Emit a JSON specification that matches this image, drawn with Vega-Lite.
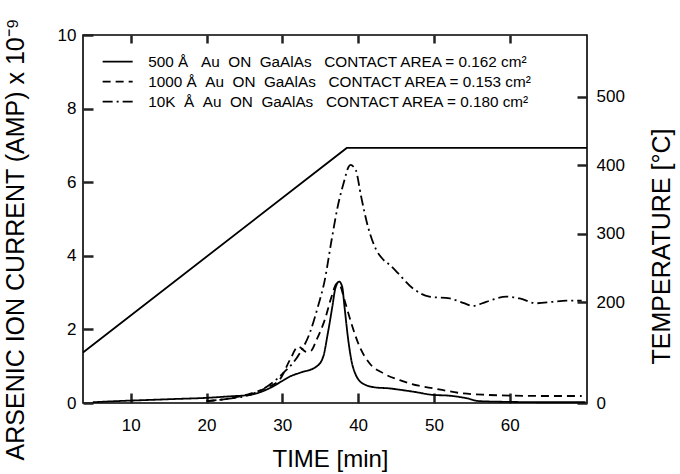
{
  "$schema": "https://vega.github.io/schema/vega-lite/v6.json",
  "width": 504,
  "height": 368,
  "autosize": {"type": "none"},
  "padding": {"left": 83, "top": 35, "right": 93, "bottom": 71},
  "background": "white",
  "config": {
    "view": {"stroke": "black", "strokeWidth": 1.6},
    "font": "Liberation Sans",
    "axis": {
      "labelFont": "Liberation Sans", "titleFont": "Liberation Sans",
      "labelColor": "black", "titleColor": "black", "titleFontWeight": "normal",
      "grid": false, "domain": false, "labelFontSize": 17, "titleFontSize": 25
    }
  },
  "datasets": {
    "current": [
      {"series": "500 Å\u00a0\u00a0\u00a0Au\u00a0\u00a0ON\u00a0\u00a0GaAlAs\u00a0\u00a0\u00a0CONTACT AREA = 0.162 cm²", "t": 5, "v": 0.02},
      {"series": "500 Å\u00a0\u00a0\u00a0Au\u00a0\u00a0ON\u00a0\u00a0GaAlAs\u00a0\u00a0\u00a0CONTACT AREA = 0.162 cm²", "t": 8, "v": 0.05},
      {"series": "500 Å\u00a0\u00a0\u00a0Au\u00a0\u00a0ON\u00a0\u00a0GaAlAs\u00a0\u00a0\u00a0CONTACT AREA = 0.162 cm²", "t": 12, "v": 0.08},
      {"series": "500 Å\u00a0\u00a0\u00a0Au\u00a0\u00a0ON\u00a0\u00a0GaAlAs\u00a0\u00a0\u00a0CONTACT AREA = 0.162 cm²", "t": 16, "v": 0.11},
      {"series": "500 Å\u00a0\u00a0\u00a0Au\u00a0\u00a0ON\u00a0\u00a0GaAlAs\u00a0\u00a0\u00a0CONTACT AREA = 0.162 cm²", "t": 20, "v": 0.14},
      {"series": "500 Å\u00a0\u00a0\u00a0Au\u00a0\u00a0ON\u00a0\u00a0GaAlAs\u00a0\u00a0\u00a0CONTACT AREA = 0.162 cm²", "t": 23, "v": 0.18},
      {"series": "500 Å\u00a0\u00a0\u00a0Au\u00a0\u00a0ON\u00a0\u00a0GaAlAs\u00a0\u00a0\u00a0CONTACT AREA = 0.162 cm²", "t": 25.7, "v": 0.22},
      {"series": "500 Å\u00a0\u00a0\u00a0Au\u00a0\u00a0ON\u00a0\u00a0GaAlAs\u00a0\u00a0\u00a0CONTACT AREA = 0.162 cm²", "t": 28.3, "v": 0.4},
      {"series": "500 Å\u00a0\u00a0\u00a0Au\u00a0\u00a0ON\u00a0\u00a0GaAlAs\u00a0\u00a0\u00a0CONTACT AREA = 0.162 cm²", "t": 30, "v": 0.6},
      {"series": "500 Å\u00a0\u00a0\u00a0Au\u00a0\u00a0ON\u00a0\u00a0GaAlAs\u00a0\u00a0\u00a0CONTACT AREA = 0.162 cm²", "t": 31, "v": 0.72},
      {"series": "500 Å\u00a0\u00a0\u00a0Au\u00a0\u00a0ON\u00a0\u00a0GaAlAs\u00a0\u00a0\u00a0CONTACT AREA = 0.162 cm²", "t": 32.3, "v": 0.82},
      {"series": "500 Å\u00a0\u00a0\u00a0Au\u00a0\u00a0ON\u00a0\u00a0GaAlAs\u00a0\u00a0\u00a0CONTACT AREA = 0.162 cm²", "t": 34.5, "v": 0.99},
      {"series": "500 Å\u00a0\u00a0\u00a0Au\u00a0\u00a0ON\u00a0\u00a0GaAlAs\u00a0\u00a0\u00a0CONTACT AREA = 0.162 cm²", "t": 35.4, "v": 1.26},
      {"series": "500 Å\u00a0\u00a0\u00a0Au\u00a0\u00a0ON\u00a0\u00a0GaAlAs\u00a0\u00a0\u00a0CONTACT AREA = 0.162 cm²", "t": 36.0, "v": 1.89},
      {"series": "500 Å\u00a0\u00a0\u00a0Au\u00a0\u00a0ON\u00a0\u00a0GaAlAs\u00a0\u00a0\u00a0CONTACT AREA = 0.162 cm²", "t": 36.6, "v": 2.62},
      {"series": "500 Å\u00a0\u00a0\u00a0Au\u00a0\u00a0ON\u00a0\u00a0GaAlAs\u00a0\u00a0\u00a0CONTACT AREA = 0.162 cm²", "t": 37.0, "v": 3.12},
      {"series": "500 Å\u00a0\u00a0\u00a0Au\u00a0\u00a0ON\u00a0\u00a0GaAlAs\u00a0\u00a0\u00a0CONTACT AREA = 0.162 cm²", "t": 37.5, "v": 3.3},
      {"series": "500 Å\u00a0\u00a0\u00a0Au\u00a0\u00a0ON\u00a0\u00a0GaAlAs\u00a0\u00a0\u00a0CONTACT AREA = 0.162 cm²", "t": 37.9, "v": 3.16},
      {"series": "500 Å\u00a0\u00a0\u00a0Au\u00a0\u00a0ON\u00a0\u00a0GaAlAs\u00a0\u00a0\u00a0CONTACT AREA = 0.162 cm²", "t": 38.2, "v": 2.62},
      {"series": "500 Å\u00a0\u00a0\u00a0Au\u00a0\u00a0ON\u00a0\u00a0GaAlAs\u00a0\u00a0\u00a0CONTACT AREA = 0.162 cm²", "t": 38.7, "v": 1.71},
      {"series": "500 Å\u00a0\u00a0\u00a0Au\u00a0\u00a0ON\u00a0\u00a0GaAlAs\u00a0\u00a0\u00a0CONTACT AREA = 0.162 cm²", "t": 39.3, "v": 0.99},
      {"series": "500 Å\u00a0\u00a0\u00a0Au\u00a0\u00a0ON\u00a0\u00a0GaAlAs\u00a0\u00a0\u00a0CONTACT AREA = 0.162 cm²", "t": 40.6, "v": 0.53},
      {"series": "500 Å\u00a0\u00a0\u00a0Au\u00a0\u00a0ON\u00a0\u00a0GaAlAs\u00a0\u00a0\u00a0CONTACT AREA = 0.162 cm²", "t": 42.4, "v": 0.42},
      {"series": "500 Å\u00a0\u00a0\u00a0Au\u00a0\u00a0ON\u00a0\u00a0GaAlAs\u00a0\u00a0\u00a0CONTACT AREA = 0.162 cm²", "t": 44, "v": 0.4},
      {"series": "500 Å\u00a0\u00a0\u00a0Au\u00a0\u00a0ON\u00a0\u00a0GaAlAs\u00a0\u00a0\u00a0CONTACT AREA = 0.162 cm²", "t": 45.5, "v": 0.36},
      {"series": "500 Å\u00a0\u00a0\u00a0Au\u00a0\u00a0ON\u00a0\u00a0GaAlAs\u00a0\u00a0\u00a0CONTACT AREA = 0.162 cm²", "t": 47.2, "v": 0.31},
      {"series": "500 Å\u00a0\u00a0\u00a0Au\u00a0\u00a0ON\u00a0\u00a0GaAlAs\u00a0\u00a0\u00a0CONTACT AREA = 0.162 cm²", "t": 49.9, "v": 0.22},
      {"series": "500 Å\u00a0\u00a0\u00a0Au\u00a0\u00a0ON\u00a0\u00a0GaAlAs\u00a0\u00a0\u00a0CONTACT AREA = 0.162 cm²", "t": 52, "v": 0.2},
      {"series": "500 Å\u00a0\u00a0\u00a0Au\u00a0\u00a0ON\u00a0\u00a0GaAlAs\u00a0\u00a0\u00a0CONTACT AREA = 0.162 cm²", "t": 54.3, "v": 0.13},
      {"series": "500 Å\u00a0\u00a0\u00a0Au\u00a0\u00a0ON\u00a0\u00a0GaAlAs\u00a0\u00a0\u00a0CONTACT AREA = 0.162 cm²", "t": 56, "v": 0.05},
      {"series": "500 Å\u00a0\u00a0\u00a0Au\u00a0\u00a0ON\u00a0\u00a0GaAlAs\u00a0\u00a0\u00a0CONTACT AREA = 0.162 cm²", "t": 60, "v": 0.03},
      {"series": "500 Å\u00a0\u00a0\u00a0Au\u00a0\u00a0ON\u00a0\u00a0GaAlAs\u00a0\u00a0\u00a0CONTACT AREA = 0.162 cm²", "t": 65, "v": 0.02},
      {"series": "500 Å\u00a0\u00a0\u00a0Au\u00a0\u00a0ON\u00a0\u00a0GaAlAs\u00a0\u00a0\u00a0CONTACT AREA = 0.162 cm²", "t": 70, "v": 0.02},

      {"series": "1000 Å\u00a0\u00a0Au\u00a0\u00a0ON\u00a0\u00a0GaAlAs\u00a0\u00a0\u00a0CONTACT AREA = 0.153 cm²", "t": 20, "v": 0.05},
      {"series": "1000 Å\u00a0\u00a0Au\u00a0\u00a0ON\u00a0\u00a0GaAlAs\u00a0\u00a0\u00a0CONTACT AREA = 0.153 cm²", "t": 23, "v": 0.12},
      {"series": "1000 Å\u00a0\u00a0Au\u00a0\u00a0ON\u00a0\u00a0GaAlAs\u00a0\u00a0\u00a0CONTACT AREA = 0.153 cm²", "t": 25.7, "v": 0.25},
      {"series": "1000 Å\u00a0\u00a0Au\u00a0\u00a0ON\u00a0\u00a0GaAlAs\u00a0\u00a0\u00a0CONTACT AREA = 0.153 cm²", "t": 28, "v": 0.42},
      {"series": "1000 Å\u00a0\u00a0Au\u00a0\u00a0ON\u00a0\u00a0GaAlAs\u00a0\u00a0\u00a0CONTACT AREA = 0.153 cm²", "t": 29.7, "v": 0.65},
      {"series": "1000 Å\u00a0\u00a0Au\u00a0\u00a0ON\u00a0\u00a0GaAlAs\u00a0\u00a0\u00a0CONTACT AREA = 0.153 cm²", "t": 31, "v": 1.17},
      {"series": "1000 Å\u00a0\u00a0Au\u00a0\u00a0ON\u00a0\u00a0GaAlAs\u00a0\u00a0\u00a0CONTACT AREA = 0.153 cm²", "t": 32.1, "v": 1.53},
      {"series": "1000 Å\u00a0\u00a0Au\u00a0\u00a0ON\u00a0\u00a0GaAlAs\u00a0\u00a0\u00a0CONTACT AREA = 0.153 cm²", "t": 33.2, "v": 1.39},
      {"series": "1000 Å\u00a0\u00a0Au\u00a0\u00a0ON\u00a0\u00a0GaAlAs\u00a0\u00a0\u00a0CONTACT AREA = 0.153 cm²", "t": 33.8, "v": 1.42},
      {"series": "1000 Å\u00a0\u00a0Au\u00a0\u00a0ON\u00a0\u00a0GaAlAs\u00a0\u00a0\u00a0CONTACT AREA = 0.153 cm²", "t": 34.5, "v": 1.71},
      {"series": "1000 Å\u00a0\u00a0Au\u00a0\u00a0ON\u00a0\u00a0GaAlAs\u00a0\u00a0\u00a0CONTACT AREA = 0.153 cm²", "t": 35.6, "v": 2.26},
      {"series": "1000 Å\u00a0\u00a0Au\u00a0\u00a0ON\u00a0\u00a0GaAlAs\u00a0\u00a0\u00a0CONTACT AREA = 0.153 cm²", "t": 36.5, "v": 2.89},
      {"series": "1000 Å\u00a0\u00a0Au\u00a0\u00a0ON\u00a0\u00a0GaAlAs\u00a0\u00a0\u00a0CONTACT AREA = 0.153 cm²", "t": 37.2, "v": 3.25},
      {"series": "1000 Å\u00a0\u00a0Au\u00a0\u00a0ON\u00a0\u00a0GaAlAs\u00a0\u00a0\u00a0CONTACT AREA = 0.153 cm²", "t": 37.6, "v": 3.2},
      {"series": "1000 Å\u00a0\u00a0Au\u00a0\u00a0ON\u00a0\u00a0GaAlAs\u00a0\u00a0\u00a0CONTACT AREA = 0.153 cm²", "t": 38.2, "v": 2.8},
      {"series": "1000 Å\u00a0\u00a0Au\u00a0\u00a0ON\u00a0\u00a0GaAlAs\u00a0\u00a0\u00a0CONTACT AREA = 0.153 cm²", "t": 39.1, "v": 2.17},
      {"series": "1000 Å\u00a0\u00a0Au\u00a0\u00a0ON\u00a0\u00a0GaAlAs\u00a0\u00a0\u00a0CONTACT AREA = 0.153 cm²", "t": 40.2, "v": 1.53},
      {"series": "1000 Å\u00a0\u00a0Au\u00a0\u00a0ON\u00a0\u00a0GaAlAs\u00a0\u00a0\u00a0CONTACT AREA = 0.153 cm²", "t": 41.5, "v": 1.08},
      {"series": "1000 Å\u00a0\u00a0Au\u00a0\u00a0ON\u00a0\u00a0GaAlAs\u00a0\u00a0\u00a0CONTACT AREA = 0.153 cm²", "t": 43.3, "v": 0.81},
      {"series": "1000 Å\u00a0\u00a0Au\u00a0\u00a0ON\u00a0\u00a0GaAlAs\u00a0\u00a0\u00a0CONTACT AREA = 0.153 cm²", "t": 45.5, "v": 0.62},
      {"series": "1000 Å\u00a0\u00a0Au\u00a0\u00a0ON\u00a0\u00a0GaAlAs\u00a0\u00a0\u00a0CONTACT AREA = 0.153 cm²", "t": 48, "v": 0.47},
      {"series": "1000 Å\u00a0\u00a0Au\u00a0\u00a0ON\u00a0\u00a0GaAlAs\u00a0\u00a0\u00a0CONTACT AREA = 0.153 cm²", "t": 49.9, "v": 0.4},
      {"series": "1000 Å\u00a0\u00a0Au\u00a0\u00a0ON\u00a0\u00a0GaAlAs\u00a0\u00a0\u00a0CONTACT AREA = 0.153 cm²", "t": 53.9, "v": 0.26},
      {"series": "1000 Å\u00a0\u00a0Au\u00a0\u00a0ON\u00a0\u00a0GaAlAs\u00a0\u00a0\u00a0CONTACT AREA = 0.153 cm²", "t": 57, "v": 0.22},
      {"series": "1000 Å\u00a0\u00a0Au\u00a0\u00a0ON\u00a0\u00a0GaAlAs\u00a0\u00a0\u00a0CONTACT AREA = 0.153 cm²", "t": 60.4, "v": 0.2},
      {"series": "1000 Å\u00a0\u00a0Au\u00a0\u00a0ON\u00a0\u00a0GaAlAs\u00a0\u00a0\u00a0CONTACT AREA = 0.153 cm²", "t": 65, "v": 0.19},
      {"series": "1000 Å\u00a0\u00a0Au\u00a0\u00a0ON\u00a0\u00a0GaAlAs\u00a0\u00a0\u00a0CONTACT AREA = 0.153 cm²", "t": 69.5, "v": 0.19},

      {"series": "10K\u00a0\u00a0Å\u00a0\u00a0Au\u00a0\u00a0ON\u00a0\u00a0GaAlAs\u00a0\u00a0\u00a0CONTACT AREA = 0.180 cm²", "t": 20, "v": 0.05},
      {"series": "10K\u00a0\u00a0Å\u00a0\u00a0Au\u00a0\u00a0ON\u00a0\u00a0GaAlAs\u00a0\u00a0\u00a0CONTACT AREA = 0.180 cm²", "t": 23, "v": 0.12},
      {"series": "10K\u00a0\u00a0Å\u00a0\u00a0Au\u00a0\u00a0ON\u00a0\u00a0GaAlAs\u00a0\u00a0\u00a0CONTACT AREA = 0.180 cm²", "t": 25.7, "v": 0.22},
      {"series": "10K\u00a0\u00a0Å\u00a0\u00a0Au\u00a0\u00a0ON\u00a0\u00a0GaAlAs\u00a0\u00a0\u00a0CONTACT AREA = 0.180 cm²", "t": 28, "v": 0.45},
      {"series": "10K\u00a0\u00a0Å\u00a0\u00a0Au\u00a0\u00a0ON\u00a0\u00a0GaAlAs\u00a0\u00a0\u00a0CONTACT AREA = 0.180 cm²", "t": 30.1, "v": 0.81},
      {"series": "10K\u00a0\u00a0Å\u00a0\u00a0Au\u00a0\u00a0ON\u00a0\u00a0GaAlAs\u00a0\u00a0\u00a0CONTACT AREA = 0.180 cm²", "t": 32.3, "v": 1.35},
      {"series": "10K\u00a0\u00a0Å\u00a0\u00a0Au\u00a0\u00a0ON\u00a0\u00a0GaAlAs\u00a0\u00a0\u00a0CONTACT AREA = 0.180 cm²", "t": 33.6, "v": 1.89},
      {"series": "10K\u00a0\u00a0Å\u00a0\u00a0Au\u00a0\u00a0ON\u00a0\u00a0GaAlAs\u00a0\u00a0\u00a0CONTACT AREA = 0.180 cm²", "t": 34.7, "v": 2.62},
      {"series": "10K\u00a0\u00a0Å\u00a0\u00a0Au\u00a0\u00a0ON\u00a0\u00a0GaAlAs\u00a0\u00a0\u00a0CONTACT AREA = 0.180 cm²", "t": 35.6, "v": 3.34},
      {"series": "10K\u00a0\u00a0Å\u00a0\u00a0Au\u00a0\u00a0ON\u00a0\u00a0GaAlAs\u00a0\u00a0\u00a0CONTACT AREA = 0.180 cm²", "t": 36.5, "v": 4.43},
      {"series": "10K\u00a0\u00a0Å\u00a0\u00a0Au\u00a0\u00a0ON\u00a0\u00a0GaAlAs\u00a0\u00a0\u00a0CONTACT AREA = 0.180 cm²", "t": 37.3, "v": 5.33},
      {"series": "10K\u00a0\u00a0Å\u00a0\u00a0Au\u00a0\u00a0ON\u00a0\u00a0GaAlAs\u00a0\u00a0\u00a0CONTACT AREA = 0.180 cm²", "t": 38.2, "v": 6.06},
      {"series": "10K\u00a0\u00a0Å\u00a0\u00a0Au\u00a0\u00a0ON\u00a0\u00a0GaAlAs\u00a0\u00a0\u00a0CONTACT AREA = 0.180 cm²", "t": 38.7, "v": 6.4},
      {"series": "10K\u00a0\u00a0Å\u00a0\u00a0Au\u00a0\u00a0ON\u00a0\u00a0GaAlAs\u00a0\u00a0\u00a0CONTACT AREA = 0.180 cm²", "t": 39.0, "v": 6.47},
      {"series": "10K\u00a0\u00a0Å\u00a0\u00a0Au\u00a0\u00a0ON\u00a0\u00a0GaAlAs\u00a0\u00a0\u00a0CONTACT AREA = 0.180 cm²", "t": 39.4, "v": 6.42},
      {"series": "10K\u00a0\u00a0Å\u00a0\u00a0Au\u00a0\u00a0ON\u00a0\u00a0GaAlAs\u00a0\u00a0\u00a0CONTACT AREA = 0.180 cm²", "t": 39.7, "v": 6.33},
      {"series": "10K\u00a0\u00a0Å\u00a0\u00a0Au\u00a0\u00a0ON\u00a0\u00a0GaAlAs\u00a0\u00a0\u00a0CONTACT AREA = 0.180 cm²", "t": 40.4, "v": 5.61},
      {"series": "10K\u00a0\u00a0Å\u00a0\u00a0Au\u00a0\u00a0ON\u00a0\u00a0GaAlAs\u00a0\u00a0\u00a0CONTACT AREA = 0.180 cm²", "t": 41.3, "v": 4.79},
      {"series": "10K\u00a0\u00a0Å\u00a0\u00a0Au\u00a0\u00a0ON\u00a0\u00a0GaAlAs\u00a0\u00a0\u00a0CONTACT AREA = 0.180 cm²", "t": 42.4, "v": 4.16},
      {"series": "10K\u00a0\u00a0Å\u00a0\u00a0Au\u00a0\u00a0ON\u00a0\u00a0GaAlAs\u00a0\u00a0\u00a0CONTACT AREA = 0.180 cm²", "t": 43.3, "v": 3.9},
      {"series": "10K\u00a0\u00a0Å\u00a0\u00a0Au\u00a0\u00a0ON\u00a0\u00a0GaAlAs\u00a0\u00a0\u00a0CONTACT AREA = 0.180 cm²", "t": 44.2, "v": 3.75},
      {"series": "10K\u00a0\u00a0Å\u00a0\u00a0Au\u00a0\u00a0ON\u00a0\u00a0GaAlAs\u00a0\u00a0\u00a0CONTACT AREA = 0.180 cm²", "t": 45.3, "v": 3.52},
      {"series": "10K\u00a0\u00a0Å\u00a0\u00a0Au\u00a0\u00a0ON\u00a0\u00a0GaAlAs\u00a0\u00a0\u00a0CONTACT AREA = 0.180 cm²", "t": 47.2, "v": 3.12},
      {"series": "10K\u00a0\u00a0Å\u00a0\u00a0Au\u00a0\u00a0ON\u00a0\u00a0GaAlAs\u00a0\u00a0\u00a0CONTACT AREA = 0.180 cm²", "t": 49.4, "v": 2.89},
      {"series": "10K\u00a0\u00a0Å\u00a0\u00a0Au\u00a0\u00a0ON\u00a0\u00a0GaAlAs\u00a0\u00a0\u00a0CONTACT AREA = 0.180 cm²", "t": 52.1, "v": 2.84},
      {"series": "10K\u00a0\u00a0Å\u00a0\u00a0Au\u00a0\u00a0ON\u00a0\u00a0GaAlAs\u00a0\u00a0\u00a0CONTACT AREA = 0.180 cm²", "t": 53.5, "v": 2.75},
      {"series": "10K\u00a0\u00a0Å\u00a0\u00a0Au\u00a0\u00a0ON\u00a0\u00a0GaAlAs\u00a0\u00a0\u00a0CONTACT AREA = 0.180 cm²", "t": 55.2, "v": 2.64},
      {"series": "10K\u00a0\u00a0Å\u00a0\u00a0Au\u00a0\u00a0ON\u00a0\u00a0GaAlAs\u00a0\u00a0\u00a0CONTACT AREA = 0.180 cm²", "t": 56.9, "v": 2.75},
      {"series": "10K\u00a0\u00a0Å\u00a0\u00a0Au\u00a0\u00a0ON\u00a0\u00a0GaAlAs\u00a0\u00a0\u00a0CONTACT AREA = 0.180 cm²", "t": 59.6, "v": 2.89},
      {"series": "10K\u00a0\u00a0Å\u00a0\u00a0Au\u00a0\u00a0ON\u00a0\u00a0GaAlAs\u00a0\u00a0\u00a0CONTACT AREA = 0.180 cm²", "t": 61.3, "v": 2.84},
      {"series": "10K\u00a0\u00a0Å\u00a0\u00a0Au\u00a0\u00a0ON\u00a0\u00a0GaAlAs\u00a0\u00a0\u00a0CONTACT AREA = 0.180 cm²", "t": 63.5, "v": 2.71},
      {"series": "10K\u00a0\u00a0Å\u00a0\u00a0Au\u00a0\u00a0ON\u00a0\u00a0GaAlAs\u00a0\u00a0\u00a0CONTACT AREA = 0.180 cm²", "t": 65.7, "v": 2.75},
      {"series": "10K\u00a0\u00a0Å\u00a0\u00a0Au\u00a0\u00a0ON\u00a0\u00a0GaAlAs\u00a0\u00a0\u00a0CONTACT AREA = 0.180 cm²", "t": 67.5, "v": 2.78},
      {"series": "10K\u00a0\u00a0Å\u00a0\u00a0Au\u00a0\u00a0ON\u00a0\u00a0GaAlAs\u00a0\u00a0\u00a0CONTACT AREA = 0.180 cm²", "t": 69.5, "v": 2.78}
    ],
    "temperature": [
      {"t": 3.7, "T": 100},
      {"t": 38.5, "T": 425},
      {"t": 70.2, "T": 425}
    ]
  },
  "layer": [
    {
      "data": {"name": "current"},
      "mark": {"type": "line", "color": "black", "strokeWidth": 1.8, "interpolate": "monotone"},
      "encoding": {
        "x": {
          "field": "t", "type": "quantitative",
          "scale": {"domain": [3.7, 70.2], "nice": false, "zero": false},
          "axis": {"orient": "bottom", "values": [10, 20, 30, 40, 50, 60], "title": "TIME [min]",
                   "tickColor": "#222222", "tickWidth": 2.5, "tickSize": -10,
                   "labelPadding": 24, "titleFontSize": 24, "titleX": 247, "titleY": 56, "titleBaseline": "middle"}
        },
        "y": {
          "field": "v", "type": "quantitative",
          "scale": {"domain": [0, 10], "nice": false},
          "axis": {"orient": "left", "values": [0, 2, 4, 6, 8, 10], "title": "ARSENIC ION CURRENT (AMP) x 10⁻⁹",
                   "tickColor": "#222222", "tickWidth": 2.5, "tickSize": -10,
                   "labelPadding": 17, "titleX": -68, "titleY": 204, "titleAngle": -90, "titleAlign": "center", "titleBaseline": "middle"}
        },
        "strokeDash": {
          "field": "series", "type": "nominal",
          "scale": {
            "domain": [
              "500 Å\u00a0\u00a0\u00a0Au\u00a0\u00a0ON\u00a0\u00a0GaAlAs\u00a0\u00a0\u00a0CONTACT AREA = 0.162 cm²",
              "1000 Å\u00a0\u00a0Au\u00a0\u00a0ON\u00a0\u00a0GaAlAs\u00a0\u00a0\u00a0CONTACT AREA = 0.153 cm²",
              "10K\u00a0\u00a0Å\u00a0\u00a0Au\u00a0\u00a0ON\u00a0\u00a0GaAlAs\u00a0\u00a0\u00a0CONTACT AREA = 0.180 cm²"
            ],
            "range": [[1, 0], [8, 5], [10, 4, 2, 4]]
          },
          "legend": {
            "orient": "none", "legendX": 27, "legendY": 19, "title": null,
            "symbolType": "M-3,0H3", "symbolSize": 100, "symbolStrokeWidth": 1.8, "symbolStrokeColor": "black",
            "labelFont": "Liberation Sans", "labelFontSize": 15.3, "labelColor": "black", "labelOffset": 23,
            "labelLimit": 600, "rowPadding": 4, "padding": 0
          }
        }
      }
    },
    {
      "data": {"name": "temperature"},
      "mark": {"type": "line", "color": "black", "strokeWidth": 1.8},
      "encoding": {
        "x": {
          "field": "t", "type": "quantitative",
          "axis": {"orient": "top", "values": [10, 20, 30, 40, 50, 60], "labels": false, "title": null,
                   "tickColor": "#222222", "tickWidth": 2.5, "tickSize": -8}
        },
        "y": {
          "field": "T", "type": "quantitative",
          "scale": {"domain": [0, 200, 590], "range": [368, 267, 0], "nice": false, "zero": false},
          "axis": {"orient": "right", "values": [0, 200, 300, 400, 500], "title": "TEMPERATURE [°C]",
                   "tickColor": "#222222", "tickWidth": 2.5, "tickSize": -10,
                   "labelPadding": 19, "titleX": 74, "titleY": 211, "titleAngle": -90, "titleAlign": "center", "titleBaseline": "middle"}
        }
      }
    }
  ],
  "resolve": {"scale": {"y": "independent"}, "axis": {"x": "independent", "y": "independent"}}
}
